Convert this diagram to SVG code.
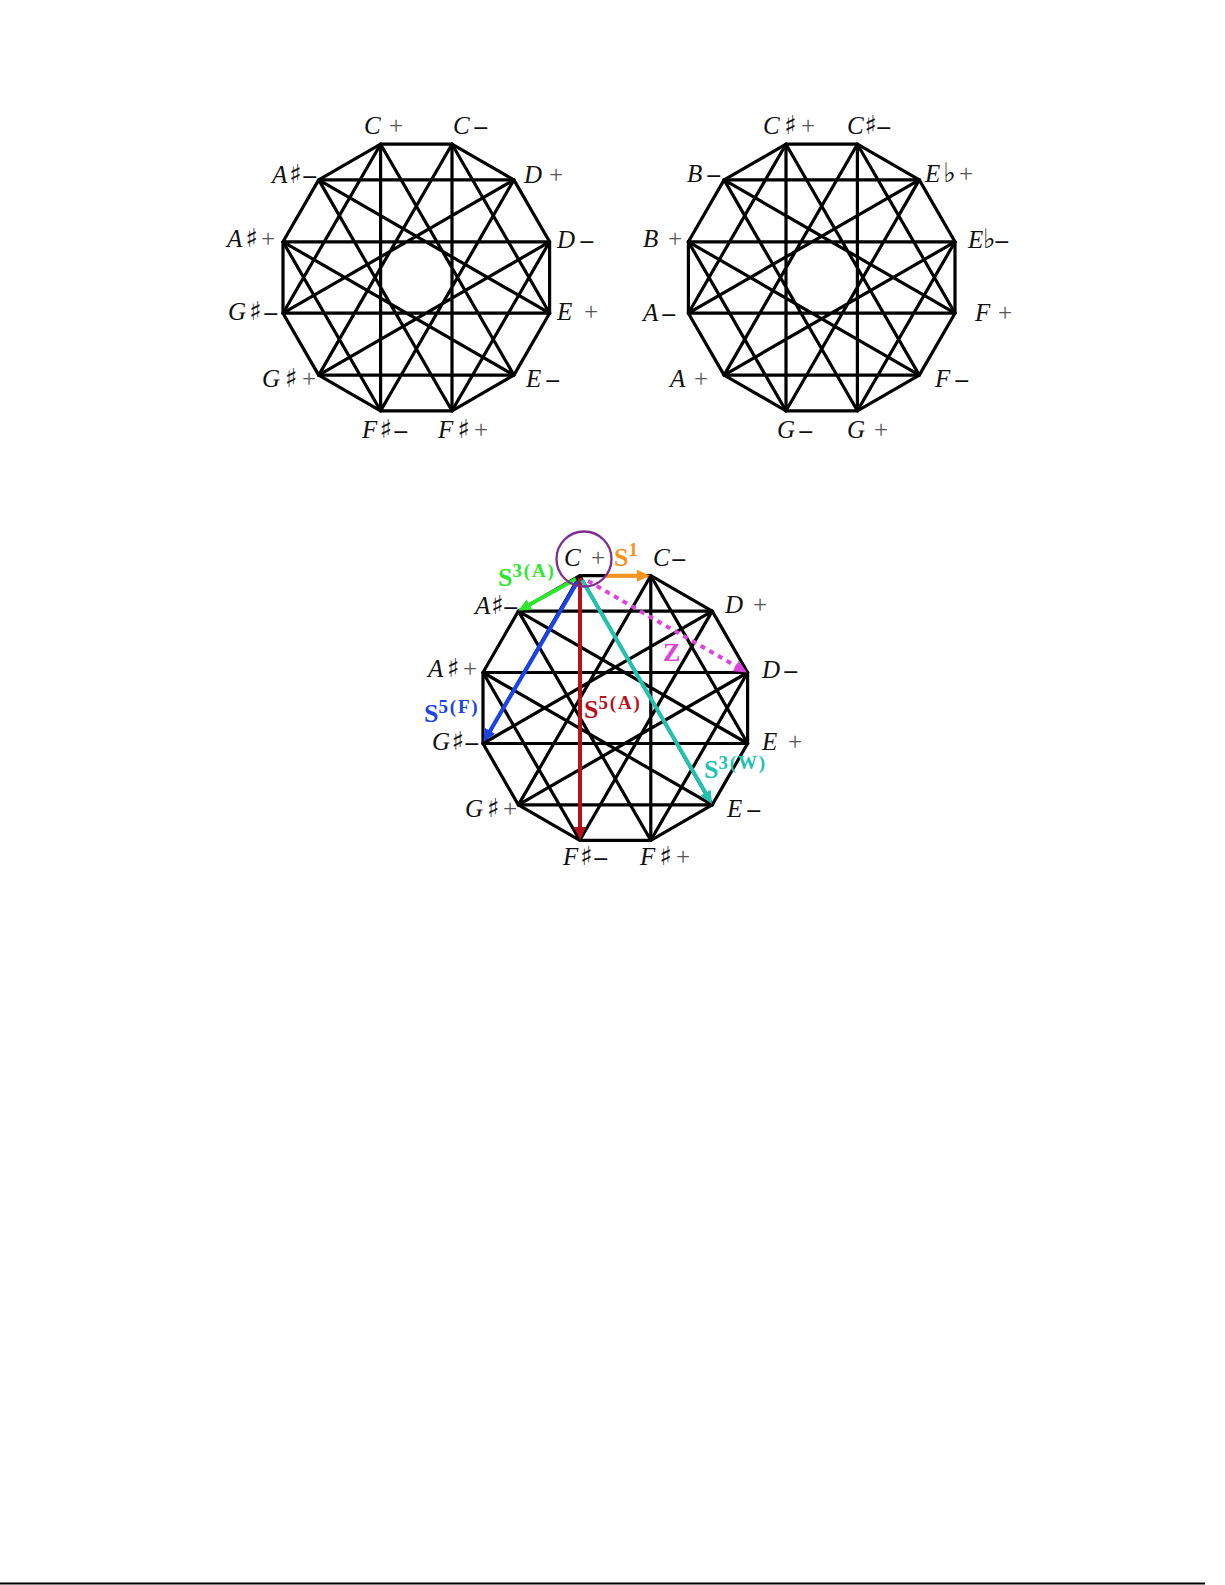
<svg xmlns="http://www.w3.org/2000/svg" width="1225" height="1585" viewBox="0 0 1225 1585">
<style>
.e{fill:none;stroke:#000;stroke-width:3.2;stroke-linejoin:round;stroke-linecap:round}
.lb{font-family:"Liberation Serif","DejaVu Serif",serif;font-size:25px;font-style:italic;fill:#111}
.ac{font-family:"DejaVu Sans",sans-serif;font-style:normal;font-size:26px}
.fl{font-family:"DejaVu Sans",sans-serif;font-style:normal;font-size:27px}
.pl{font-style:normal;fill:#555}
.mi{font-style:normal;font-weight:bold}
.sl{font-family:"Liberation Serif","DejaVu Serif",serif;font-size:26px;font-weight:bold}
.sp{font-size:19px;letter-spacing:1.8px}
.ar{fill:none;stroke-width:4}
</style>
<defs>
<marker id="mO" markerUnits="userSpaceOnUse" markerWidth="13" markerHeight="12" refX="3" refY="6" orient="auto"><path d="M0,0 L13,6 L0,12 z" fill="#f7941d"/></marker>
<marker id="mG" markerUnits="userSpaceOnUse" markerWidth="13" markerHeight="12" refX="3" refY="6" orient="auto"><path d="M0,0 L13,6 L0,12 z" fill="#2ee62e"/></marker>
<marker id="mB" markerUnits="userSpaceOnUse" markerWidth="13" markerHeight="12" refX="3" refY="6" orient="auto"><path d="M0,0 L13,6 L0,12 z" fill="#1a44e6"/></marker>
<marker id="mR" markerUnits="userSpaceOnUse" markerWidth="13" markerHeight="12" refX="3" refY="6" orient="auto"><path d="M0,0 L13,6 L0,12 z" fill="#b5121b"/></marker>
<marker id="mT" markerUnits="userSpaceOnUse" markerWidth="13" markerHeight="12" refX="3" refY="6" orient="auto"><path d="M0,0 L13,6 L0,12 z" fill="#21c2b0"/></marker>
<marker id="mM" markerUnits="userSpaceOnUse" markerWidth="13" markerHeight="12" refX="3" refY="6" orient="auto"><path d="M0,0 L13,6 L0,12 z" fill="#dd44dd"/></marker>
</defs>
<rect width="1225" height="1585" fill="#fff"/>
<g id="connectors">
<g id="edges-1">
<polygon class="e" points="380.6,144.2 452,144.2 513.9,179.9 549.6,241.8 549.6,313.2 513.9,375.1 452,410.8 380.6,410.8 318.7,375.1 283,313.2 283,241.8 318.7,179.9"/>
<polygon class="e" points="380.6,144.2 513.9,375.1 283,241.8 549.6,241.8 318.7,375.1 452,144.2 452,410.8 318.7,179.9 549.6,313.2 283,313.2 513.9,179.9 380.6,410.8"/>
<path class="e" d="M380.6,144.2 L283,313.2 M513.9,179.9 L318.7,179.9 M549.6,313.2 L452,144.2 M452,410.8 L549.6,241.8 M318.7,375.1 L513.9,375.1 M283,241.8 L380.6,410.8"/>
</g>
<g id="edges-2">
<polygon class="e" points="786,144.2 857.4,144.2 919.3,179.9 955,241.8 955,313.2 919.3,375.1 857.4,410.8 786,410.8 724.1,375.1 688.4,313.2 688.4,241.8 724.1,179.9"/>
<polygon class="e" points="786,144.2 919.3,375.1 688.4,241.8 955,241.8 724.1,375.1 857.4,144.2 857.4,410.8 724.1,179.9 955,313.2 688.4,313.2 919.3,179.9 786,410.8"/>
<path class="e" d="M786,144.2 L688.4,313.2 M919.3,179.9 L724.1,179.9 M955,313.2 L857.4,144.2 M857.4,410.8 L955,241.8 M724.1,375.1 L919.3,375.1 M688.4,241.8 L786,410.8"/>
</g>
<g id="edges-3">
<polygon class="e" points="579.8,575.7 650.8,575.7 712.2,611.1 747.6,672.5 747.6,743.5 712.2,804.9 650.8,840.3 579.8,840.3 518.4,804.9 483,743.5 483,672.5 518.4,611.1"/>
<polygon class="e" points="579.8,575.7 712.2,804.9 483,672.5 747.6,672.5 518.4,804.9 650.8,575.7 650.8,840.3 518.4,611.1 747.6,743.5 483,743.5 712.2,611.1 579.8,840.3"/>
<path class="e" d="M579.8,575.7 L483,743.5 M712.2,611.1 L518.4,611.1 M747.6,743.5 L650.8,575.7 M650.8,840.3 L747.6,672.5 M518.4,804.9 L712.2,804.9 M483,672.5 L579.8,840.3"/>
</g>
<g id="arrows">
<line class="ar" stroke="#f7941d" x1="606" y1="575.7" x2="640" y2="575.7" marker-end="url(#mO)"/>
<line class="ar" stroke="#2ee62e" x1="576" y1="579" x2="527" y2="606" marker-end="url(#mG)"/>
<line class="ar" stroke="#1a44e6" x1="578" y1="581" x2="488.5" y2="733.4" marker-end="url(#mB)"/>
<line class="ar" stroke="#b5121b" x1="580" y1="578" x2="580" y2="830" marker-end="url(#mR)"/>
<line class="ar" stroke="#21c2b0" x1="582" y1="580" x2="707" y2="795.3" marker-end="url(#mT)"/>
<line class="ar" stroke="#dd44dd" stroke-dasharray="5 5" x1="588" y1="581" x2="738.3" y2="667.5" marker-end="url(#mM)"/>
</g>
</g>
<g id="nodes-1">
<g id="n1-Cp"><text class="lb" x="364" y="134" textLength="39" lengthAdjust="spacing">C<tspan class="pl">+</tspan></text></g>
<g id="n1-Cm"><text class="lb" x="453" y="134" textLength="34" lengthAdjust="spacing">C<tspan class="mi">–</tspan></text></g>
<g id="n1-Dp"><text class="lb" x="524" y="183" textLength="39" lengthAdjust="spacing">D<tspan class="pl">+</tspan></text></g>
<g id="n1-Dm"><text class="lb" x="557" y="248" textLength="36" lengthAdjust="spacing">D<tspan class="mi">–</tspan></text></g>
<g id="n1-Ep"><text class="lb" x="557" y="320" textLength="41" lengthAdjust="spacing">E<tspan class="pl">+</tspan></text></g>
<g id="n1-Em"><text class="lb" x="526" y="387" textLength="33" lengthAdjust="spacing">E<tspan class="mi">–</tspan></text></g>
<g id="n1-Fsp"><text class="lb" x="438" y="438" textLength="50" lengthAdjust="spacing">F<tspan class="ac">♯</tspan><tspan class="pl">+</tspan></text></g>
<g id="n1-Fsm"><text class="lb" x="362" y="438" textLength="45" lengthAdjust="spacing">F<tspan class="ac">♯</tspan><tspan class="mi">–</tspan></text></g>
<g id="n1-Gsp"><text class="lb" x="262" y="387" textLength="54" lengthAdjust="spacing">G<tspan class="ac">♯</tspan><tspan class="pl">+</tspan></text></g>
<g id="n1-Gsm"><text class="lb" x="228" y="320" textLength="49" lengthAdjust="spacing">G<tspan class="ac">♯</tspan><tspan class="mi">–</tspan></text></g>
<g id="n1-Asp"><text class="lb" x="227" y="247" textLength="48" lengthAdjust="spacing">A<tspan class="ac">♯</tspan><tspan class="pl">+</tspan></text></g>
<g id="n1-Asm"><text class="lb" x="272" y="183" textLength="44" lengthAdjust="spacing">A<tspan class="ac">♯</tspan><tspan class="mi">–</tspan></text></g>
</g>
<g id="nodes-2">
<g id="n2-Csp"><text class="lb" x="763" y="134" textLength="52" lengthAdjust="spacing">C<tspan class="ac">♯</tspan><tspan class="pl">+</tspan></text></g>
<g id="n2-Csm"><text class="lb" x="847" y="134" textLength="43" lengthAdjust="spacing">C<tspan class="ac">♯</tspan><tspan class="mi">–</tspan></text></g>
<g id="n2-Ebp"><text class="lb" x="925" y="182" textLength="48" lengthAdjust="spacing">E<tspan class="fl">♭</tspan><tspan class="pl">+</tspan></text></g>
<g id="n2-Ebm"><text class="lb" x="968" y="248" textLength="40" lengthAdjust="spacing">E<tspan class="fl">♭</tspan><tspan class="mi">–</tspan></text></g>
<g id="n2-Fp"><text class="lb" x="975" y="321" textLength="37" lengthAdjust="spacing">F<tspan class="pl">+</tspan></text></g>
<g id="n2-Fm"><text class="lb" x="935" y="387" textLength="33" lengthAdjust="spacing">F<tspan class="mi">–</tspan></text></g>
<g id="n2-Gp"><text class="lb" x="847" y="438" textLength="41" lengthAdjust="spacing">G<tspan class="pl">+</tspan></text></g>
<g id="n2-Gm"><text class="lb" x="777" y="438" textLength="35" lengthAdjust="spacing">G<tspan class="mi">–</tspan></text></g>
<g id="n2-Ap"><text class="lb" x="670" y="387" textLength="38" lengthAdjust="spacing">A<tspan class="pl">+</tspan></text></g>
<g id="n2-Am"><text class="lb" x="643" y="321" textLength="32" lengthAdjust="spacing">A<tspan class="mi">–</tspan></text></g>
<g id="n2-Bp"><text class="lb" x="643" y="247" textLength="39" lengthAdjust="spacing">B<tspan class="pl">+</tspan></text></g>
<g id="n2-Bm"><text class="lb" x="687" y="182" textLength="33" lengthAdjust="spacing">B<tspan class="mi">–</tspan></text></g>
</g>
<g id="nodes-3">
<g id="n3-Cp"><circle cx="584" cy="559" r="27.5" fill="none" stroke="#7d2f8f" stroke-width="2.3"/><text class="lb" x="564" y="566" textLength="41" lengthAdjust="spacing">C<tspan class="pl">+</tspan></text></g>
<g id="n3-Cm"><text class="lb" x="653" y="566" textLength="32" lengthAdjust="spacing">C<tspan class="mi">–</tspan></text></g>
<g id="n3-Dp"><text class="lb" x="725" y="613" textLength="42" lengthAdjust="spacing">D<tspan class="pl">+</tspan></text></g>
<g id="n3-Dm"><text class="lb" x="762" y="678" textLength="35" lengthAdjust="spacing">D<tspan class="mi">–</tspan></text></g>
<g id="n3-Ep"><text class="lb" x="762" y="750" textLength="40" lengthAdjust="spacing">E<tspan class="pl">+</tspan></text></g>
<g id="n3-Em"><text class="lb" x="727" y="817" textLength="33" lengthAdjust="spacing">E<tspan class="mi">–</tspan></text></g>
<g id="n3-Fsp"><text class="lb" x="640" y="865" textLength="50" lengthAdjust="spacing">F<tspan class="ac">♯</tspan><tspan class="pl">+</tspan></text></g>
<g id="n3-Fsm"><text class="lb" x="563" y="865" textLength="44" lengthAdjust="spacing">F<tspan class="ac">♯</tspan><tspan class="mi">–</tspan></text></g>
<g id="n3-Gsp"><text class="lb" x="465" y="817" textLength="52" lengthAdjust="spacing">G<tspan class="ac">♯</tspan><tspan class="pl">+</tspan></text></g>
<g id="n3-Gsm"><text class="lb" x="432" y="750" textLength="46" lengthAdjust="spacing">G<tspan class="ac">♯</tspan><tspan class="mi">–</tspan></text></g>
<g id="n3-Asp"><text class="lb" x="428" y="677" textLength="49" lengthAdjust="spacing">A<tspan class="ac">♯</tspan><tspan class="pl">+</tspan></text></g>
<g id="n3-Asm"><text class="lb" x="475" y="614" textLength="42" lengthAdjust="spacing">A<tspan class="ac">♯</tspan><tspan class="mi">–</tspan></text></g>
</g>
<g id="arrow-labels">
<text class="sl" fill="#f7941d" x="614" y="566">S<tspan class="sp" dy="-10">1</tspan></text>
<text class="sl" fill="#2ee62e" x="498" y="586">S<tspan class="sp" dy="-9">3(A)</tspan></text>
<text class="sl" fill="#dd44dd" x="663" y="661">Z</text>
<text class="sl" fill="#1a44e6" x="424" y="722">S<tspan class="sp" dy="-9">5(F)</tspan></text>
<text class="sl" fill="#b5121b" x="584" y="718">S<tspan class="sp" dy="-9">5(A)</tspan></text>
<text class="sl" fill="#21c2b0" x="704" y="778">S<tspan class="sp" dy="-9">3(W)</tspan></text>
</g>
<line x1="0" y1="1583.5" x2="1205" y2="1583.5" stroke="#000" stroke-width="2"/>
</svg>
